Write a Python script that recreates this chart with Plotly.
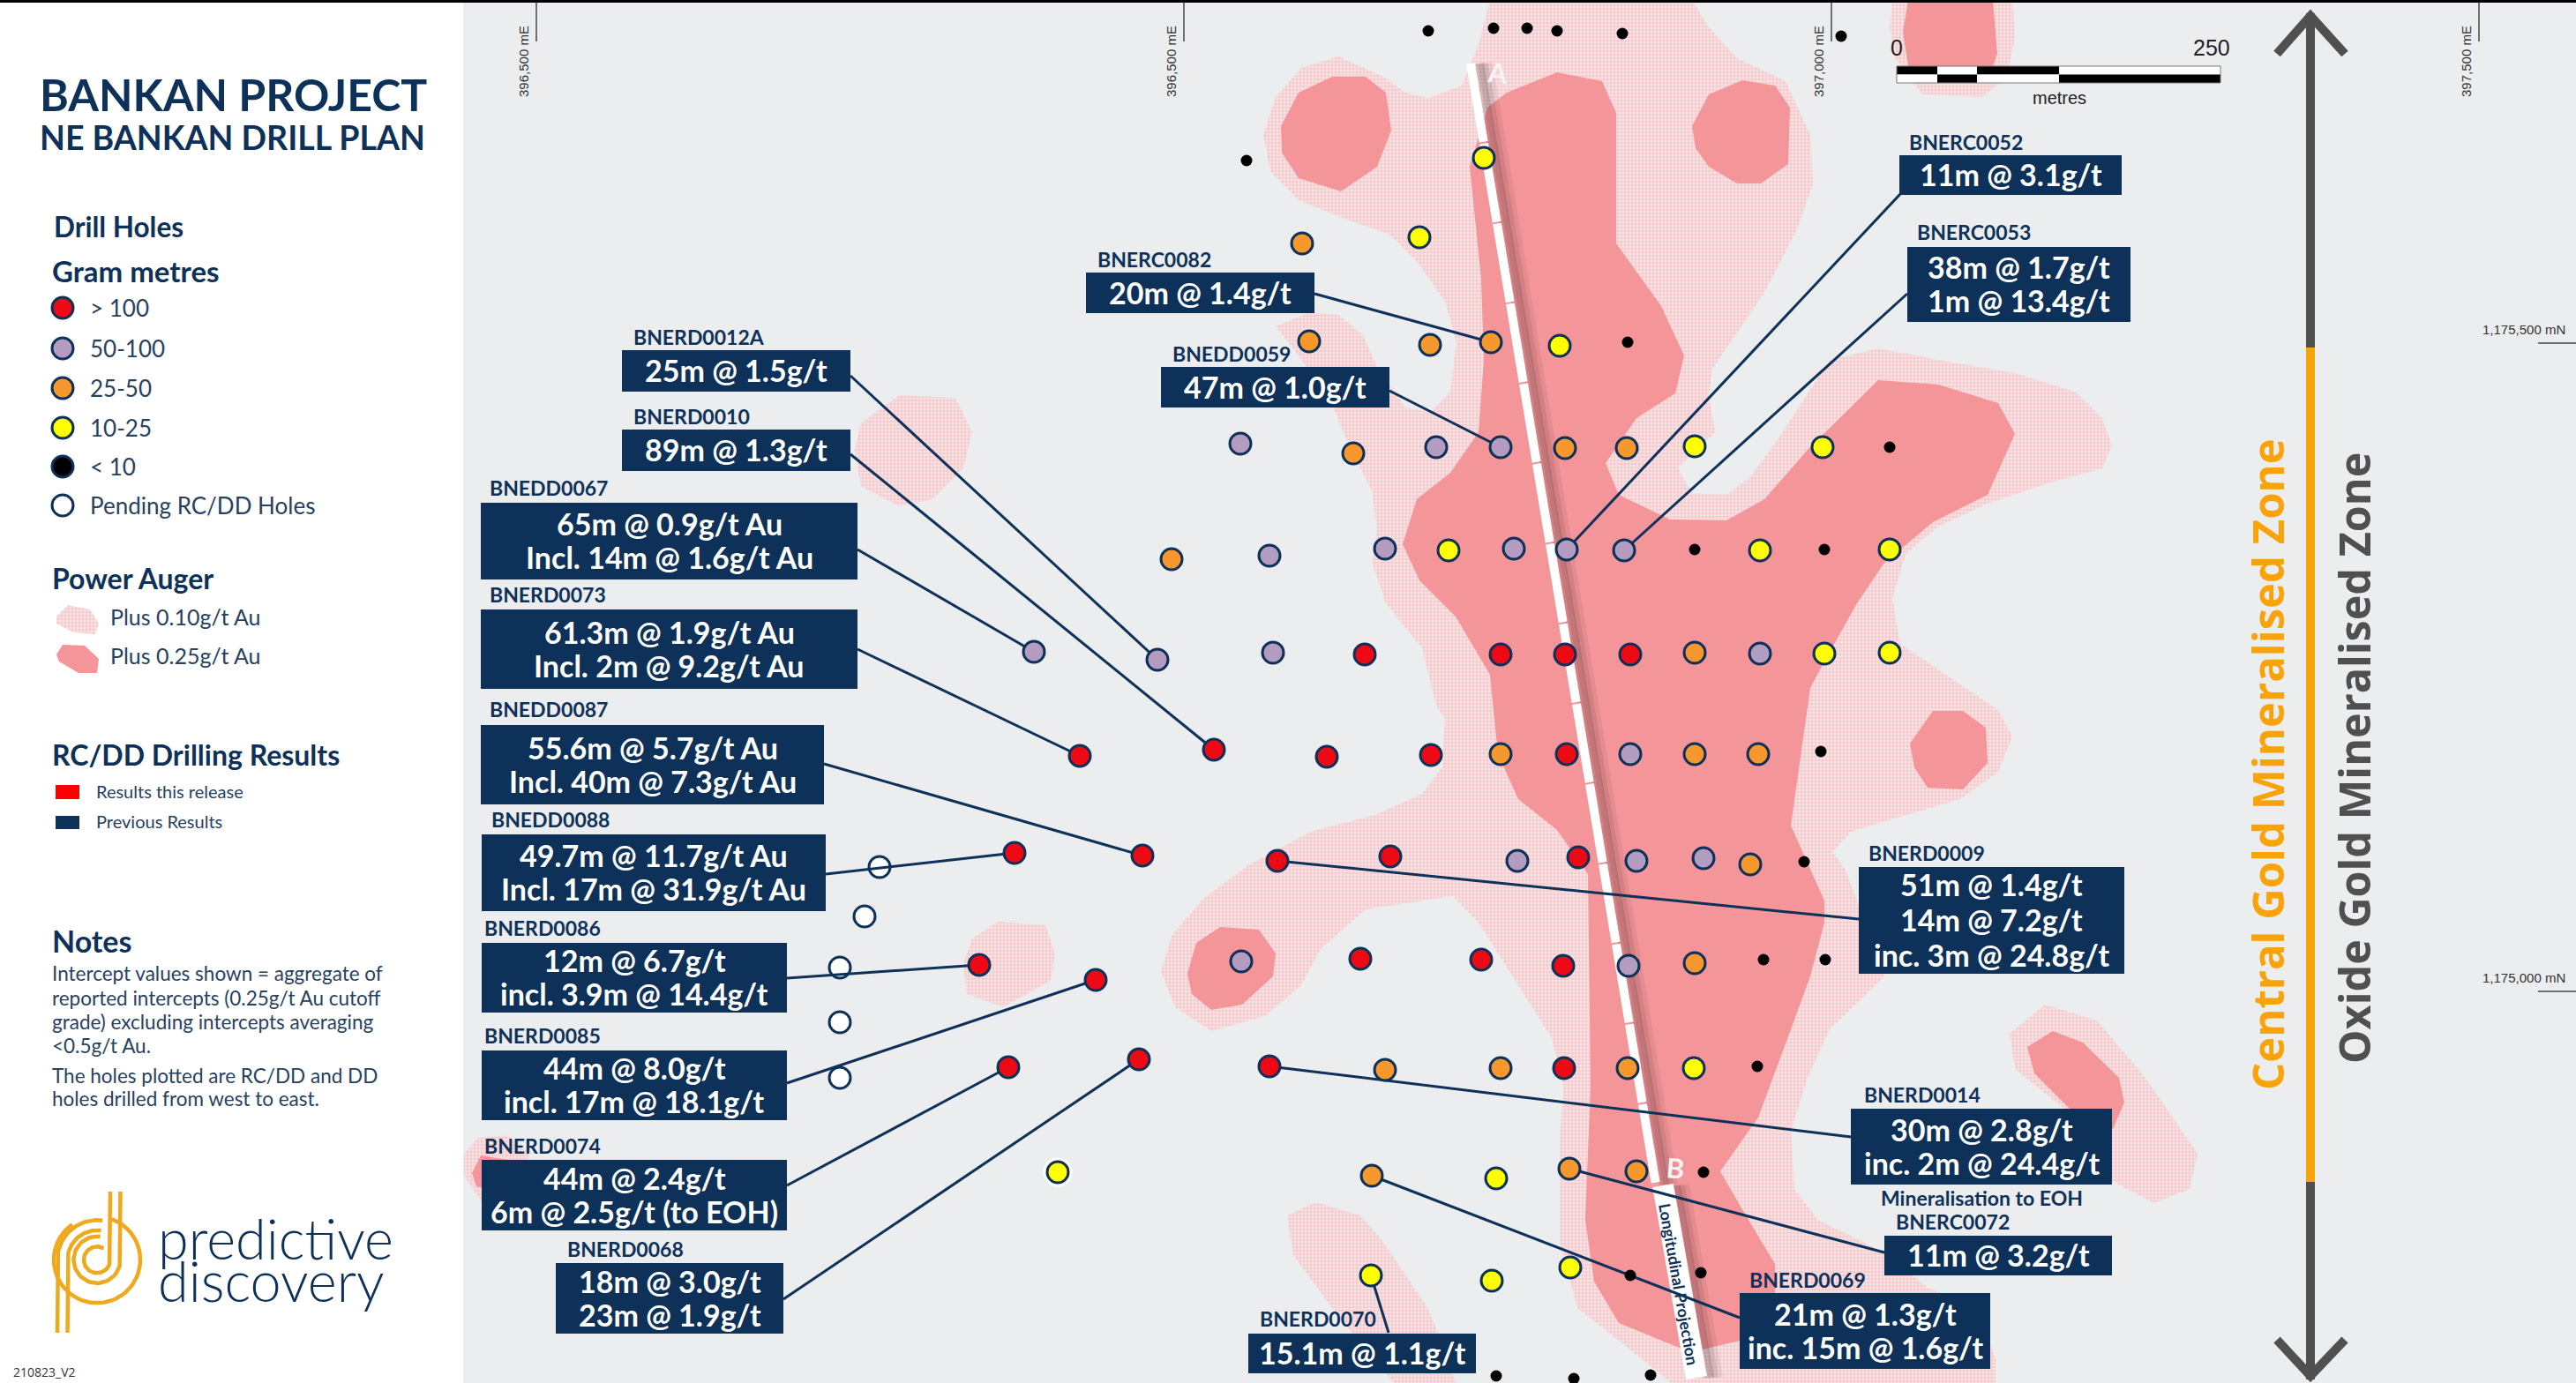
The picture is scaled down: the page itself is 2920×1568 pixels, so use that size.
import numpy as np
import plotly.graph_objects as go

# All positions are plan-sheet grid units; the axes map them straight to the 2920x1568 sheet.
NAVY = "#0E3159"
RED = "#EE0A14"
PURPLE = "#B39CC0"
ORANGE = "#F7982F"
YELLOW = "#FFFF00"
PINK = "#F39599"
FONT = "Lato"
MAPFONT = "Liberation Sans"

# ---- drill holes by gram-metre class
red_x = [1547,1701,1774,1848,1224,1376,1504,1622,1776,1150,1295,1448,1576,1789,1110,1242,1542,1679,1772,1143,1291,1439,1773]
red_y = [742,742,742,742,857,850,858,856,855,967,970,976,971,972,1094,1111,1087,1088,1095,1210,1201,1209,1211]
purple_x = [1406,1628,1701,1439,1570,1716,1776,1841,1172,1312,1443,1995,1848,1720,1855,1931,1407,1846]
purple_y = [503,507,507,630,622,622,623,624,739,748,740,741,855,976,976,973,1090,1095]
orange_x = [1476,1484,1621,1690,1534,1774,1844,1328,1921,1701,1921,1993,1984,1921,1570,1701,1845,1555,1779,1855]
orange_y = [276,387,391,388,514,508,508,634,740,855,855,855,980,1092,1213,1211,1211,1333,1325,1328]
yellow_x = [1682,1609,1768,1921,2066,1642,1995,2142,2068,2142,1920,1199,1696,1554,1691,1780]
yellow_y = [179,269,392,506,507,624,624,623,741,740,1211,1329,1336,1446,1452,1437]
black_x = [1619,1693,1731,1765,1839,2087,1413,1845,2142,1921,2068,2064,2045,1999,2069,1992,1931,1848,1928,1696,1784,1871]
black_y = [35,32,32,35,38,41,182,388,507,623,623,852,977,1088,1088,1209,1329,1446,1443,1560,1563,1559]
pending_x = [997,980,952,952,952]
pending_y = [983,1039,1097,1159,1222]

# ---- power auger anomalies, traced outlines
zone010_main = [(1689,0),(1676,51),(1657,97),(1619,111),(1593,105),(1568,87),(1517,64),(1475,77),(1446,110),(1432,153),(1440,194),(1472,227),
 (1529,250),(1574,265),(1606,296),(1638,342),(1651,388),(1644,444),(1622,467),(1593,462),(1561,416),(1545,380),(1517,357),(1485,354),(1446,370),
 (1472,403),(1510,459),(1529,505),(1555,556),(1561,602),(1555,638),(1571,684),(1612,735),(1628,800),(1638,815),(1635,870),(1612,900),(1561,923),
 (1485,943),(1415,981),(1364,1019),(1328,1061),(1316,1102),(1332,1142),(1373,1169),(1434,1152),(1475,1117),(1497,1076),(1548,1031),(1647,1016),
 (1676,1046),(1721,1117),(1759,1177),(1772,1232),(1768,1298),(1768,1408),(1788,1483),(1848,1530),(1894,1568),(2262,1568),(2262,1540),(2240,1480),
 (2185,1460),(2136,1420),(2061,1383),(2034,1348),(2030,1283),(2049,1222),(2074,1167),(2136,1107),(2092,986),(2077,966),(2098,943),(2154,926),
 (2222,906),(2265,875),(2281,835),(2265,805),(2228,780),(2154,730),(2145,679),(2160,628),(2197,597),(2253,571),(2321,548),(2383,531),(2394,505),
 (2383,474),(2352,444),(2284,423),(2197,408),(2129,395),(2074,408),(2018,494),(1984,541),(1957,561),(1918,559),(1902,531),(1944,490),(1937,449),
 (1941,418),(2000,332),(2037,260),(2055,209),(2052,153),(2024,92),(1969,66),(1937,31),(1918,0)]
zone010_scale = [(2145,0),(2281,0),(2284,41),(2275,87),(2247,110),(2179,107),(2148,66),(2142,31)]
zone010_west = [(1019,448),(1083,451),(1102,490),(1092,531),(1057,566),(1019,574),(976,551),(969,510),(976,480)]
zone010_mid = [(1131,1045),(1185,1049),(1196,1081),(1191,1112),(1137,1142),(1096,1127),(1092,1092),(1102,1064)]
zone010_east = [(2318,1139),(2377,1157),(2432,1222),(2491,1308),(2482,1348),(2442,1364),(2392,1338),(2346,1262),(2284,1212),(2278,1172)]
zone010_south = [(1491,1363),(1542,1378),(1568,1408),(1619,1484),(1631,1514),(1650,1568),(1580,1568),(1510,1483),(1466,1423),(1459,1378)]
zone010_corner = [(526,1308),(542,1290),(574,1287),(600,1308),(590,1340),(548,1365),(526,1333)]

zone025_main = [(1765,82),(1816,92),(1832,128),(1832,276),(1883,347),(1909,403),(1899,446),(1855,474),(1820,525),(1835,561),(1893,589),(1957,590),
 (2000,566),(2049,510),(2129,431),(2197,436),(2265,457),(2284,492),(2253,561),(2191,592),(2136,638),(2105,684),(2068,750),(2052,780),(2030,936),
 (2068,1021),(2068,1046),(2052,1107),(2030,1167),(1993,1267),(1950,1328),(1976,1373),(2012,1433),(2012,1470),(1972,1520),(1930,1530),(1906,1529),
 (1835,1500),(1807,1453),(1797,1383),(1803,1232),(1800,991),(1765,941),(1721,906),(1698,855),(1689,765),(1650,699),(1609,658),(1590,617),(1606,566),
 (1644,536),(1676,490),(1682,408),(1679,316),(1666,189),(1686,122),(1708,105)]
zone025_nw = [(1510,87),(1548,87),(1571,105),(1577,148),(1561,189),(1520,217),(1472,202),(1453,173),(1452,143),(1472,105)]
zone025_ne = [(1922,168),(1918,143),(1937,107),(1975,91),(2012,97),(2029,122),(2027,186),(1996,208),(1969,208),(1937,189)]
zone025_scale = [(2163,0),(2259,0),(2264,61),(2259,75),(2163,75),(2160,56),(2157,36)]
zone025_mid = [(1383,1051),(1427,1054),(1446,1081),(1443,1107),(1408,1139),(1373,1145),(1351,1127),(1346,1104),(1356,1069)]
zone025_hill = [(2191,806),(2225,806),(2251,825),(2253,865),(2225,895),(2185,893),(2170,870),(2165,843)]
zone025_east = [(2327,1169),(2361,1182),(2402,1222),(2408,1250),(2395,1280),(2346,1257),(2306,1217),(2298,1187)]
zone025_corner = [(545,1310),(575,1315),(560,1350),(540,1345),(535,1330)]
legend_010 = [(64,699),(77,686),(102,691),(112,707),(108,719),(83,717),(64,707)]
legend_025 = [(64,742),(71,731),(96,732),(112,747),(110,763),(89,763),(67,750)]

# ---- intercept boxes: name, text, left, right, top, bottom, name x, name y, leader start, leader end
boxes = [
 ("BNERD0012A",["25m @ 1.5g/t"],705,964,397,444,716,383,(964,426),(1312,748)),
 ("BNERD0010",["89m @ 1.3g/t"],705,964,487,534,716,473,(964,515),(1376,850)),
 ("BNEDD0067",["65m @ 0.9g/t Au","Incl. 14m @ 1.6g/t Au"],545,972,570,657,553,554,(972,623),(1172,739)),
 ("BNERD0073",["61.3m @ 1.9g/t Au","Incl. 2m @ 9.2g/t Au"],545,972,691,781,553,675,(972,736),(1224,857)),
 ("BNEDD0087",["55.6m @ 5.7g/t Au","Incl. 40m @ 7.3g/t Au"],545,934,822,912,553,805,(934,866),(1295,970)),
 ("BNEDD0088",["49.7m @ 11.7g/t Au","Incl. 17m @ 31.9g/t Au"],546,936,946,1033,555,930,(936,991),(1150,967)),
 ("BNERD0086",["12m @ 6.7g/t","incl. 3.9m @ 14.4g/t"],546,892,1069,1148,547,1053,(892,1109),(1110,1094)),
 ("BNERD0085",["44m @ 8.0g/t","incl. 17m @ 18.1g/t"],546,892,1191,1270,547,1175,(892,1228),(1242,1111)),
 ("BNERD0074",["44m @ 2.4g/t","6m @ 2.5g/t (to EOH)"],546,892,1315,1395,547,1300,(892,1344),(1143,1210)),
 ("BNERD0068",["18m @ 3.0g/t","23m @ 1.9g/t"],630,888,1432,1512,641,1417,(888,1473),(1291,1201)),
 ("BNERC0082",["20m @ 1.4g/t"],1231,1490,309,355,1242,295,(1490,333),(1690,388)),
 ("BNEDD0059",["47m @ 1.0g/t"],1316,1575,416,462,1327,402,(1575,443),(1701,507)),
 ("BNERC0052",["11m @ 3.1g/t"],2153,2405,176,221,2162,162,(2154,220),(1776,623)),
 ("BNERC0053",["38m @ 1.7g/t","1m @ 13.4g/t"],2162,2415,280,365,2171,264,(2162,333),(1841,624)),
 ("BNERD0009",["51m @ 1.4g/t","14m @ 7.2g/t","inc. 3m @ 24.8g/t"],2107,2408,983,1104,2116,968,(2107,1042),(1448,976)),
 ("BNERD0014",["30m @ 2.8g/t","inc. 2m @ 24.4g/t"],2098,2394,1257,1343,2111,1242,(2098,1289),(1439,1209)),
 ("BNERC0072",["11m @ 3.2g/t"],2136,2394,1401,1446,2147,1386,(2136,1420),(1779,1325)),
 ("BNERD0069",["21m @ 1.3g/t","inc. 15m @ 1.6g/t"],1972,2256,1466,1552,1981,1452,(1972,1494),(1555,1333)),
 ("BNERD0070",["15.1m @ 1.1g/t"],1415,1673,1512,1557,1426,1496,(1574,1511),(1554,1446)),
]

# ---- grid ticks
east_labels = ["396,500 mE","396,500 mE","397,000 mE","397,500 mE"]
east_tick = [608,1342,2076,2810]
north_labels = ["1,175,500 mN","1,175,000 mN"]
north_tick = [389,1124]

# ---- left panel text
legend_classes = ["> 100","50-100","25-50","10-25","< 10","Pending RC/DD Holes"]
legend_colors = [RED,PURPLE,ORANGE,YELLOW,"#000000","#FFFFFF"]
legend_y = [349,395,440,485,529,573]
notes = ["Intercept values shown = aggregate of","reported intercepts (0.25g/t Au cutoff","grade) excluding intercepts averaging","<0.5g/t Au.","The holes plotted are RC/DD and DD","holes drilled from west to east."]
notes_y = [1104,1132,1159,1186,1220,1246]

fig = go.Figure()

def rect(x0,y0,x1,y1,color,layer="above",line=None):
    fig.add_shape(type="rect",x0=x0,y0=y0,x1=x1,y1=y1,fillcolor=color,layer=layer,
                  line=dict(color=line or color,width=1 if line else 0))

def text(x,y,s,size,color=NAVY,bold=False,anchor="left",font=FONT,angle=0,weight=None):
    f = dict(family=font,size=size,color=color)
    if weight:
        f["weight"] = weight
    fig.add_annotation(x=x,y=y,text=f"<b>{s}</b>" if bold else s,showarrow=False,xanchor=anchor,yanchor="middle",
                       textangle=angle,font=f,align="center")

def line(xs,ys,color,width,dash=None):
    fig.add_trace(go.Scatter(x=xs,y=ys,mode="lines",line=dict(color=color,width=width,dash=dash),hoverinfo="skip"))

def hatch(points):
    xs,ys = zip(*points)
    fig.add_trace(go.Scatter(x=list(xs)+[xs[0]],y=list(ys)+[ys[0]],mode="lines",fill="toself",line=dict(width=0,color="rgba(0,0,0,0)"),
        fillcolor="#F3CDD0",fillpattern=dict(shape=".",size=4,solidity=0.6,fgcolor="#F1ABAF",bgcolor="#F6E6E7"),hoverinfo="skip"))

def solid(points):
    xs,ys = zip(*points)
    fig.add_trace(go.Scatter(x=list(xs)+[xs[0]],y=list(ys)+[ys[0]],mode="lines",fill="toself",line=dict(width=0,color=PINK),
        fillcolor=PINK,hoverinfo="skip"))

def holes(xs,ys,color,size=24,lw=3,lc=NAVY):
    fig.add_trace(go.Scatter(x=xs,y=ys,mode="markers",marker=dict(size=size,color=color,line=dict(width=lw,color=lc)),hoverinfo="skip"))

# sheet background
rect(525,3,2920,1568,"#ECEDEF",layer="below")
rect(0,0,2920,3,"#000000",layer="above")

for z in (zone010_main,zone010_scale,zone010_west,zone010_mid,zone010_east,zone010_south,zone010_corner,legend_010):
    hatch(z)
for z in (zone025_main,zone025_nw,zone025_ne,zone025_scale,zone025_mid,zone025_hill,zone025_east,zone025_corner,legend_025):
    solid(z)

# longitudinal projection line with soft shadow
for off,w,c in [(19,12,"rgba(70,40,40,0.08)"),(14,12,"rgba(70,40,40,0.12)"),(9,12,"rgba(70,40,40,0.18)")]:
    line([1667+off,1877+off],[72,1343],c,w)
    line([1890+off,1928+off],[1344,1562],c,w)
line([1667,1877],[72,1343],"#FFFFFF",10,dash="90px,2px")
line([1885,1923],[1344,1562],"#FFFFFF",24)
text(1903,1456,"Longitudinal Projection",18,NAVY,True,"center",angle=80)
text(1697,82,"A",31,"#F5F3F3",True,"center",angle=5)
text(1899,1324,"B",31,"#F7F3F3",True,"center",angle=5)

# holes and leaders
holes(pending_x,pending_y,"#FFFFFF")
for b in boxes:
    line([b[8][0],b[9][0]],[b[8][1],b[9][1]],NAVY,3)
holes([1199],[1329],"#FFFFFF",size=33,lw=0)
holes(red_x,red_y,RED)
holes(purple_x,purple_y,PURPLE)
holes(orange_x,orange_y,ORANGE)
holes(yellow_x,yellow_y,YELLOW)
holes(black_x,black_y,"#000000",size=13,lw=0)

# intercept boxes
for name,lines,l,r,t,bm,nx,ny,_,_ in boxes:
    rect(l,t,r,bm,NAVY)
    text(nx,ny-1,name,23,NAVY,True)
    n = len(lines)
    pitch = 40 if n==3 else (38 if n==2 else 0)
    mid = (t+bm)/2-1
    for i,s in enumerate(lines):
        text((l+r)/2,mid+(i-(n-1)/2)*pitch,s,34,"#FFFFFF",True,"center")
text(2246,1358,"Mineralisation to EOH",23,NAVY,True,"center")

# grid ticks
for lab,xt in zip(east_labels,east_tick):
    line([xt,xt],[3,47],"#444444",1.5)
    text(xt-15,70,lab,15,"#333333",False,"center",font=MAPFONT,angle=-90)
for lab,yt in zip(north_labels,north_tick):
    line([2877,2920],[yt,yt],"#444444",1.5)
    text(2861,yt-16,lab,15,"#333333",False,"center",font=MAPFONT)

# scale bar
bar_edges = [2150,2196,2241,2334,2517]
for i in range(4):
    top = "#000000" if i%2==0 else "#FFFFFF"
    bot = "#FFFFFF" if i%2==0 else "#000000"
    rect(bar_edges[i],75,bar_edges[i+1],84.5,top)
    rect(bar_edges[i],84.5,bar_edges[i+1],94,bot)
fig.add_shape(type="rect",x0=2150,y0=75,x1=2517,y1=94,line=dict(color="#777777",width=1),layer="above")
text(2150,54,"0",25,"#222222",False,"center",font=MAPFONT)
text(2507,54,"250",25,"#222222",False,"center",font=MAPFONT)
text(2334,111,"metres",20,"#222222",False,"center",font=MAPFONT)

# zone arrow
GREY = "#505050"
line([2619,2619],[15,394],GREY,10)
line([2619,2619],[1340,1564],GREY,10)
line([2619,2619],[394,1340],"#F9A30B",10)
line([2581,2619,2658],[61,18,61],GREY,10)
line([2581,2619,2658],[1519,1560,1519],GREY,10)
text(2570,867,"Central Gold Mineralised Zone",49,"#F9A30B",True,"center",font="Open Sans",angle=-90)
text(2668,860,"Oxide Gold Mineralised Zone",48.5,GREY,True,"center",font="Open Sans",angle=-90)

# left panel
text(43,107,"BANKAN PROJECT",50,NAVY,True)
text(43,155,"NE BANKAN DRILL PLAN",37.5,NAVY,True)
text(59,257,"Drill Holes",31.5,NAVY,True)
text(57,307,"Gram metres",33,NAVY,True)
holes([71]*6,legend_y,legend_colors,size=24,lw=3)
for lab,yy in zip(legend_classes,legend_y):
    text(100,yy,lab,26,"#27415F")
text(57,655,"Power Auger",32,NAVY,True)
text(123,699,"Plus 0.10g/t Au",25,"#27415F")
text(123,743,"Plus 0.25g/t Au",25,"#27415F")
text(57,855,"RC/DD Drilling Results",32,NAVY,True)
rect(63,890,90,906,"#FF0000")
rect(63,925,90,940,NAVY)
text(107,897,"Results this release",20,"#27415F")
text(107,931,"Previous Results",20,"#27415F")
text(57,1066,"Notes",34,NAVY,True)
for s,yy in zip(notes,notes_y):
    text(57,yy-1,s,22.5,"#27415F")
text(13,1555,"210823_V2",14,"#333333",font="Open Sans")

# logo
LOGO = "#EFA91F"
CX,CY = 110,1428.3
def arc(r,a0,a1):
    t = np.radians(np.linspace(a0,a1,60))
    return CX+r*np.cos(t), CY-r*np.sin(t)
ax,ay = arc(49,70,-235); line(list(ax),list(ay),LOGO,4.5)
ax,ay = arc(45,180,82); line([CX-45,CX-45]+list(ax),[1511,CY]+list(ay),LOGO,4.5)
ax,ay = arc(33.5,180,82); line([CX-33.5,CX-33.5]+list(ax),[1511,CY]+list(ay),LOGO,4.5)
ax,ay = arc(26.5,0,-278); line([CX+26.5,CX+26.5]+list(ax),[1351,CY]+list(ay),LOGO,4.5)
ax,ay = arc(15,0,-300); line([CX+15,CX+15]+list(ax),[1351,CY]+list(ay),LOGO,4.5)
text(177,1403,"predictive",63,NAVY,weight=300)
text(177,1451,"discovery",63,NAVY,weight=300)

fig.update_layout(width=2920,height=1568,margin=dict(l=0,r=0,t=0,b=0),showlegend=False,
    paper_bgcolor="#FFFFFF",plot_bgcolor="#FFFFFF",
    xaxis=dict(range=[0,2920],visible=False,fixedrange=True),
    yaxis=dict(range=[1568,0],visible=False,fixedrange=True))
fig.write_html("out.html",config={"displayModeBar":False},
    post_script="document.body.style.margin='0';document.body.style.overflow='hidden';")
